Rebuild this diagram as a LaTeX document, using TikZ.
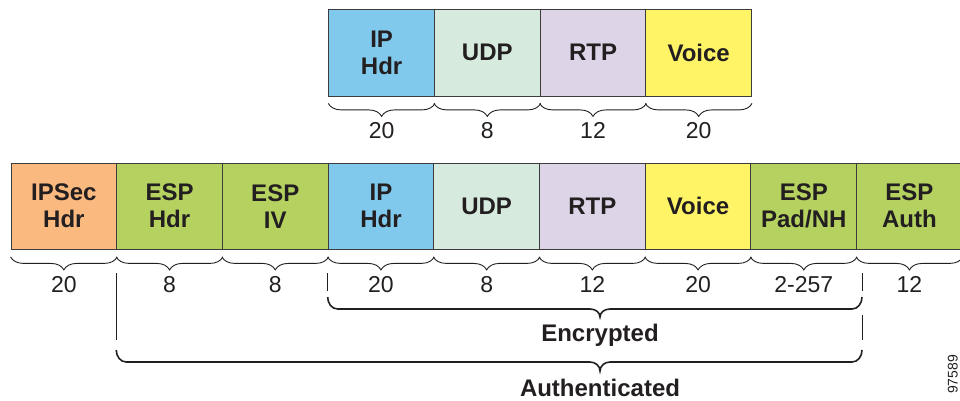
\documentclass[tikz,border=0pt]{standalone}
\usepackage{fontspec}
\setmainfont{Liberation Sans}
\usetikzlibrary{decorations.pathreplacing}
\definecolor{ipsecc}{HTML}{F9B97F}
\definecolor{espc}{HTML}{B5D160}
\definecolor{ipc}{HTML}{80C8EC}
\definecolor{udpc}{HTML}{D6EBDD}
\definecolor{rtpc}{HTML}{DDD4E8}
\definecolor{voicec}{HTML}{FFF366}
\definecolor{ink}{HTML}{231F20}
\definecolor{edge}{HTML}{3C3C3C}
\tikzset{
  field/.style={draw=edge, line width=0.9pt, minimum width=105.7pt, minimum height=86.5pt,
    inner sep=0pt, align=center, text=ink, font=\fontsize{24}{27}\selectfont\bfseries},
  sizebrace/.style={draw=ink, line width=0.9pt, decorate,
    decoration={brace, mirror, amplitude=13pt, aspect=0.5}},
  num/.style={anchor=base, text=ink, font=\fontsize{23}{27}\selectfont, inner sep=0pt},
  biglabel/.style={anchor=base, text=ink, font=\fontsize{24}{27}\selectfont\bfseries, inner sep=0pt},
  thinline/.style={draw=ink, line width=0.9pt},
  bracket/.style={draw=ink, line width=1.6pt}
}
\begin{document}
\begin{tikzpicture}[x=1pt,y=1pt]
\useasboundingbox (0,0) rectangle (960,-400);
% top row
\node[field, fill=ipc]    (t1) at (381.6,-52.7) {IP\\Hdr};
\node[field, fill=udpc]   (t2) at (487.3,-52.7) {UDP};
\node[field, fill=rtpc]   (t3) at (593.0,-52.7) {RTP};
\node[field, fill=voicec] (t4) at (698.7,-52.7) {Voice};
% bottom row
\node[field, fill=ipsecc] (b1) at (63.85,-206.2) {IPSec\\Hdr};
\node[field, fill=espc]   (b2) at (169.55,-206.2) {ESP\\Hdr};
\node[field, fill=espc]   (b3) at (275.25,-206.2) {ESP\\IV};
\node[field, fill=ipc]    (b4) at (380.95,-206.2) {IP\\Hdr};
\node[field, fill=udpc]   (b5) at (486.65,-206.2) {UDP};
\node[field, fill=rtpc]   (b6) at (592.35,-206.2) {RTP};
\node[field, fill=voicec] (b7) at (698.05,-206.2) {Voice};
\node[field, fill=espc]   (b8) at (803.75,-206.2) {ESP\\Pad/NH};
\node[field, fill=espc]   (b9) at (909.45,-206.2) {ESP\\Auth};
% size braces, top row
\foreach \n/\v in {t1/20,t2/8,t3/12,t4/20}{
  \draw[sizebrace] ([yshift=-7pt]\n.south west) -- ([yshift=-7pt]\n.south east);
  \node[num] (n\n) at ([yshift=-41.7pt]\n.south) {\v};
}
% size braces, bottom row
\foreach \n/\v in {b1/20,b2/8,b3/8,b4/20,b5/8,b6/12,b7/20,b8/2-257,b9/12}{
  \draw[sizebrace] ([yshift=-7pt]\n.south west) -- ([yshift=-7pt]\n.south east);
  \node[num] (n\n) at ([yshift=-42.8pt]\n.south) {\v};
}
% coordinates for the brackets
\coordinate (eL) at (b4.south west |- 0,-273);
\coordinate (eR) at (862,-273);
\coordinate (aL) at (b2.south west |- 0,-273);
% Encrypted
\draw[thinline] (eL) -- ++(0,-18);
\draw[thinline] (eR) -- ++(0,-18);
\draw[bracket] ([yshift=-24pt]eL) to[out=-90,in=180] ++(10,-12)
  -- (590,-309) to[out=0,in=90] (600,-317) to[out=90,in=180] (610,-309)
  -- ([xshift=-10pt,yshift=-36pt]eR) to[out=0,in=-90] ([yshift=-24pt]eR);
\node[biglabel] (enc) at (600,-341) {Encrypted};
% Authenticated
\draw[thinline] (aL) -- ++(0,-67);
\draw[thinline] ([yshift=-42pt]eR) -- ++(0,-25);
\draw[bracket] ([yshift=-77pt]aL) to[out=-90,in=180] ++(10,-12)
  -- (590,-362) to[out=0,in=90] (600,-371) to[out=90,in=180] (610,-362)
  -- ([xshift=-10pt,yshift=-89pt]eR) to[out=0,in=-90] ([yshift=-77pt]eR);
\node[biglabel] (auth) at (600,-396) {Authenticated};
% figure number
\node[anchor=base west, rotate=90, inner sep=0pt, text=ink, font=\fontsize{14}{14}\selectfont] (fig) at (957.5,-394) {97589};
\end{tikzpicture}
\end{document}
